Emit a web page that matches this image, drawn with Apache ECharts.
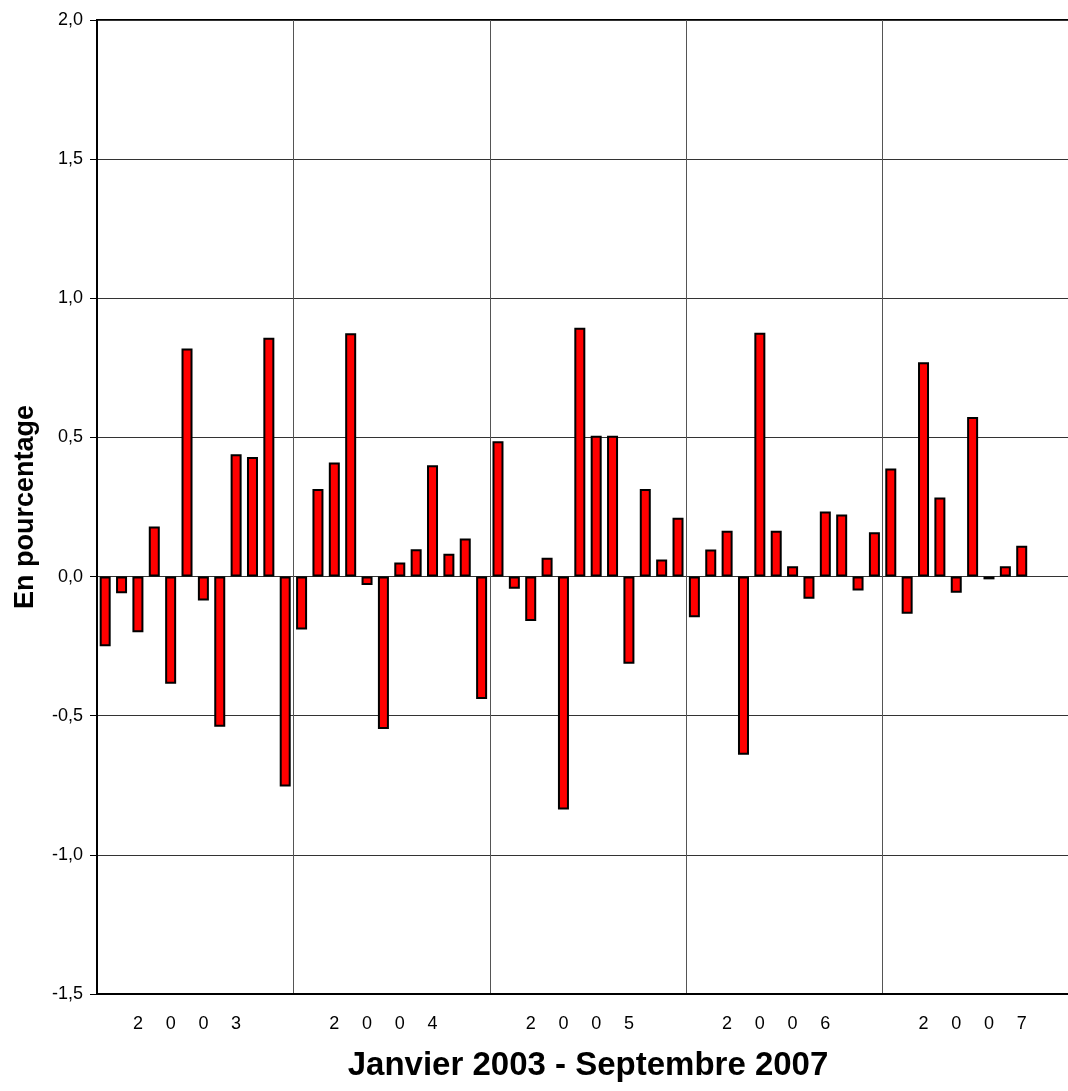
<!DOCTYPE html>
<html>
<head>
<meta charset="utf-8">
<script src="https://cdn.jsdelivr.net/npm/echarts@6/dist/echarts.min.js"></script>
<style>
html,body{margin:0;padding:0;background:#fff;overflow:hidden;width:1068px;height:1091px;}
#chart{width:1080px;height:1091px;}
</style>
</head>
<body>
<div id="chart"></div>
<script>
// Monthly changes, January 2003 - September 2007 (in %)
const years = ['2003', '2004', '2005', '2006', '2007'];
const values2003 = [-0.25, -0.06, -0.20, 0.18, -0.385, 0.82, -0.086, -0.54, 0.44, 0.43, 0.858, -0.754];
const values2004 = [-0.19, 0.315, 0.41, 0.874, -0.03, -0.548, 0.051, 0.098, 0.40, 0.082, 0.137, -0.44];
const values2005 = [0.486, -0.044, -0.16, 0.068, -0.837, 0.894, 0.506, 0.506, -0.313, 0.315, 0.061, 0.211];
const values2006 = [-0.146, 0.097, 0.165, -0.64, 0.876, 0.165, 0.037, -0.08, 0.234, 0.223, -0.05, 0.159];
const values2007 = [0.388, -0.134, 0.77, 0.284, -0.058, 0.573, -0.01, 0.037, 0.111];
// the axis spans 5 full years (60 monthly slots); the year is written one digit every other month
const yearDigitSlots = [2, 4, 6, 8];
const yTicks = { min: -1.5, max: 2.0, step: 0.5 };
const xTitle = 'Janvier 2003 - Septembre 2007';
const yTitle = 'En pourcentage';

const values = [].concat(values2003, values2004, values2005, values2006, values2007);
const categories = [];
const monthLabels = [];
years.forEach(function (y) {
  for (let m = 0; m < 12; m++) {
    categories.push(y + '-' + (m + 1));
    const k = yearDigitSlots.indexOf(m);
    monthLabels.push(k >= 0 ? y.charAt(k) : '');
  }
});

const FONT = '"Liberation Sans", Arial, sans-serif';
const chart = echarts.init(document.getElementById('chart'), null, { renderer: 'canvas' });
chart.setOption({
  animation: false,
  backgroundColor: '#ffffff',
  grid: {
    left: 97, top: 20, right: 1, bottom: 97,
    outerBoundsMode: 'none',
    show: true, borderColor: '#000', borderWidth: 2, backgroundColor: 'transparent'
  },
  xAxis: {
    type: 'category',
    data: categories,
    boundaryGap: true,
    name: xTitle,
    nameLocation: 'middle',
    nameGap: 55,
    nameTextStyle: { fontFamily: FONT, fontSize: 33, fontWeight: 'bold', color: '#000' },
    axisLine: { onZero: false, lineStyle: { color: '#000', width: 2 } },
    axisTick: { show: false },
    axisLabel: {
      interval: 0,
      margin: 21,
      fontFamily: FONT, fontSize: 18, color: '#000',
      formatter: function (v, i) { return monthLabels[i]; }
    },
    splitLine: {
      show: true,
      interval: function (i) { return i > 0 && i % 12 === 0; },
      lineStyle: { color: '#555', width: 1 }
    }
  },
  yAxis: {
    type: 'value',
    min: yTicks.min, max: yTicks.max, interval: yTicks.step,
    name: yTitle,
    nameLocation: 'middle',
    nameGap: 58,
    nameRotate: 90,
    nameTextStyle: { fontFamily: FONT, fontSize: 27, fontWeight: 'bold', color: '#000' },
    axisLine: { show: true, lineStyle: { color: '#000', width: 2 } },
    axisTick: { show: true, length: 7, lineStyle: { color: '#000', width: 1 } },
    axisLabel: {
      margin: 14,
      fontFamily: FONT, fontSize: 18, color: '#000',
      formatter: function (v) { return v.toFixed(1).replace('.', ','); }
    },
    splitLine: { show: true, lineStyle: { color: '#333', width: 1 } }
  },
  series: [{
    type: 'bar',
    data: values,
    barWidth: 11,
    itemStyle: { color: '#ff0000', borderColor: '#000', borderWidth: 2 }
  }]
});
</script>
</body>
</html>
